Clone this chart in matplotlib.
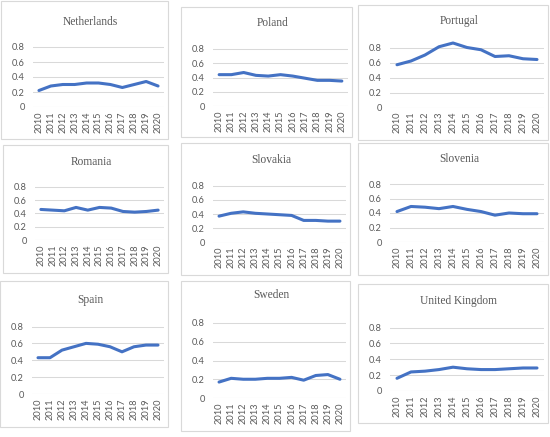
import matplotlib
matplotlib.use("Agg")
import matplotlib.pyplot as plt
from matplotlib.patches import Rectangle

years = [str(y) for y in range(2010, 2021)]
yticks = [0, 0.2, 0.4, 0.6, 0.8]
ytick_labels = ["0", "0.2", "0.4", "0.6", "0.8"]

netherlands = [0.22, 0.28, 0.30, 0.30, 0.32, 0.32, 0.30, 0.26, 0.30, 0.34, 0.28]
poland = [0.44, 0.44, 0.47, 0.43, 0.42, 0.44, 0.42, 0.39, 0.36, 0.36, 0.35]
portugal = [0.57, 0.62, 0.70, 0.81, 0.86, 0.80, 0.77, 0.68, 0.69, 0.65, 0.64]
romania = [0.46, 0.45, 0.44, 0.49, 0.45, 0.49, 0.48, 0.43, 0.42, 0.43, 0.45]
slovakia = [0.37, 0.41, 0.43, 0.41, 0.40, 0.39, 0.38, 0.31, 0.31, 0.30, 0.30]
slovenia = [0.42, 0.49, 0.48, 0.46, 0.49, 0.45, 0.42, 0.37, 0.40, 0.39, 0.39]
spain = [0.43, 0.43, 0.52, 0.56, 0.60, 0.59, 0.56, 0.50, 0.56, 0.58, 0.58]
sweden = [0.17, 0.21, 0.20, 0.20, 0.21, 0.21, 0.22, 0.19, 0.24, 0.25, 0.20]
uk = [0.16, 0.24, 0.25, 0.27, 0.30, 0.28, 0.27, 0.27, 0.28, 0.29, 0.29]

countries = ["Netherlands", "Poland", "Portugal",
             "Romania", "Slovakia", "Slovenia",
             "Spain", "Sweden", "United Kingdom"]
series = [netherlands, poland, portugal, romania, slovakia, slovenia, spain, sweden, uk]

# panel boxes in pixels: left, top, right, bottom
boxes = [(1, 1, 168, 139), (181, 7, 352, 137), (358, 5, 548, 140),
         (3, 145, 168, 273), (181, 143, 350, 275), (358, 143, 548, 275),
         (0, 281, 168, 427), (181, 281, 350, 431), (358, 284, 548, 423)]
# per panel pixel rows: title centre, 0.8 gridline, 0 line
rows = [(22, 47, 107), (23, 49, 106), (21, 47.5, 107.5),
        (162, 186.5, 240.5), (160, 185.5, 242.5), (159, 184, 242),
        (300, 326.5, 394), (295, 323, 398), (301, 327.5, 391)]

W, H = 550, 437
fig = plt.figure(figsize=(W / 100, H / 100), dpi=100)
fig.patch.set_facecolor("white")

grid_col = "#D9D9D9"
text_col = "#595959"
line_col = "#4472C4"

for name, vals, (l, t, r, b), (ty, y08, y0) in zip(countries, series, boxes, rows):
    w = r - l
    h = b - t
    fig.patches.append(Rectangle((l / W, 1 - b / H), w / W, h / H,
                                 transform=fig.transFigure, fill=False,
                                 edgecolor=grid_col, linewidth=0.8, zorder=0))
    px0 = l + 32
    px1 = r - 4
    ytop = y0 - (y0 - y08) * 0.9 / 0.8
    ax = fig.add_axes([px0 / W, 1 - y0 / H, (px1 - px0) / W, (y0 - ytop) / H])
    ax.plot(range(len(years)), vals, color=line_col, linewidth=2.2,
            solid_capstyle="round", solid_joinstyle="round", zorder=3)
    ax.set_xlim(-0.5, len(years) - 0.5)
    ax.set_ylim(0, 0.9)
    ax.set_yticks(yticks)
    ax.set_yticklabels(ytick_labels)
    ax.set_xticks(range(len(years)))
    ax.set_xticklabels(years, rotation=90)
    for lab in ax.get_xticklabels() + ax.get_yticklabels():
        lab.set_family(["Lato", "DejaVu Sans"])
        lab.set_fontsize(6.7)
        lab.set_color(text_col)
    ax.tick_params(length=0, pad=3)
    ax.tick_params(axis="y", pad=6)
    for s in ax.spines.values():
        s.set_visible(False)
    ax.grid(axis="y", color=grid_col, linewidth=0.75, zorder=0)
    ax.set_axisbelow(True)
    ax.axhline(0, color=grid_col, linewidth=0.75, zorder=1)
    ax.set_facecolor("none")
    fig.text(((l + r) / 2 + 6) / W, 1 - ty / H, name,
             ha="center", va="center", fontsize=8.3, color=text_col,
             family=["Liberation Serif", "DejaVu Serif"])

fig.savefig("out.png", dpi=100, facecolor="white")
